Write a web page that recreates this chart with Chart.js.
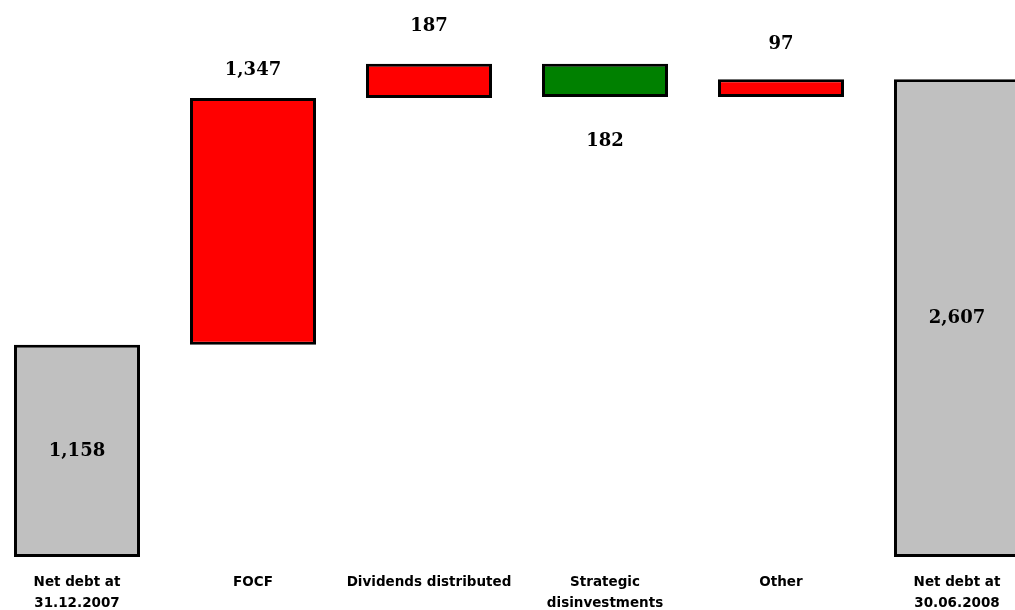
<!DOCTYPE html>
<html>
<head>
<meta charset="utf-8">
<script src="https://cdn.jsdelivr.net/npm/chart.js@4"></script>
<style>
  html, body { margin: 0; padding: 0; background: #fff; overflow: hidden; }
  #wrap { position: absolute; left: -11px; top: 0; width: 1056px; height: 610px; }
</style>
</head>
<body>
<div id="wrap"><canvas id="myChart"></canvas></div>
<script>
var categories = [
    ['Net debt at', '31.12.2007'],
    'FOCF',
    'Dividends distributed',
    ['Strategic', 'disinvestments'],
    'Other',
    ['Net debt at', '30.06.2008']
];
// change per step (totals are the first and last)
var changes = [1158, 1347, 187, -182, 97, 2607];
var isTotal = [true, false, false, false, false, true];
var colors = ['#C0C0C0', '#FF0000', '#FF0000', '#008000', '#FF0000', '#C0C0C0'];

// build floating bars from the changes
var bars = [];
var running = 0;
for (var i = 0; i < changes.length; i++) {
    if (isTotal[i]) {
        bars.push([0, changes[i]]);
        running = changes[i];
    } else {
        bars.push([running, running + changes[i]]);
        running = running + changes[i];
    }
}

// where each value label goes: 'mid', 'above' or 'below', and gap in px
var labelPlace = ['mid', 'above', 'above', 'below', 'above', 'mid'];
var labelGap = [0, 28, 37, 44, 35, 0];

function fmt(v) {
    return Math.abs(v).toString().replace(/\B(?=(\d{3})+(?!\d))/g, ',');
}

var valueLabels = {
    id: 'valueLabels',
    afterDatasetsDraw: function(chart) {
        var ctx = chart.ctx;
        var meta = chart.getDatasetMeta(0);
        var y = chart.scales.y;
        ctx.save();
        ctx.font = 'bold 18px "DejaVu Serif"';
        ctx.fillStyle = '#000';
        ctx.textAlign = 'center';
        ctx.textBaseline = 'middle';
        for (var i = 0; i < meta.data.length; i++) {
            var bar = meta.data[i];
            var top = y.getPixelForValue(Math.max(bars[i][0], bars[i][1]));
            var bottom = y.getPixelForValue(Math.min(bars[i][0], bars[i][1]));
            var ty;
            if (labelPlace[i] == 'mid') ty = (top + bottom) / 2;
            else if (labelPlace[i] == 'above') ty = top - labelGap[i];
            else ty = bottom + labelGap[i];
            ctx.fillText(fmt(changes[i]), bar.x, ty);
        }
        ctx.restore();
    }
};

const ctx = document.getElementById('myChart');
chart = new Chart(ctx, {
    type: 'bar',
    data: {
        labels: categories,
        datasets: [{
            data: bars,
            backgroundColor: colors,
            borderColor: '#000',
            borderWidth: 3,
            borderSkipped: false,
            barPercentage: 1,
            categoryPercentage: 0.716
        }]
    },
    options: {
        animation: false,
        maintainAspectRatio: false,
        responsive: true,
        layout: { padding: 0 },
        plugins: {
            legend: { display: false },
            tooltip: { enabled: false }
        },
        scales: {
            x: {
                grid: { display: false, drawTicks: false },
                border: { display: false },
                ticks: {
                    color: '#000',
                    font: { family: '"DejaVu Sans"', weight: 'bold', size: 13.5, lineHeight: 1.55 },
                    maxRotation: 0,
                    autoSkip: false,
                    padding: 15
                },
                afterFit: function(scale) { scale.height = 53; }
            },
            y: {
                display: false,
                min: 0,
                max: 3040
            }
        }
    },
    plugins: [valueLabels]
});
</script>
</body>
</html>
